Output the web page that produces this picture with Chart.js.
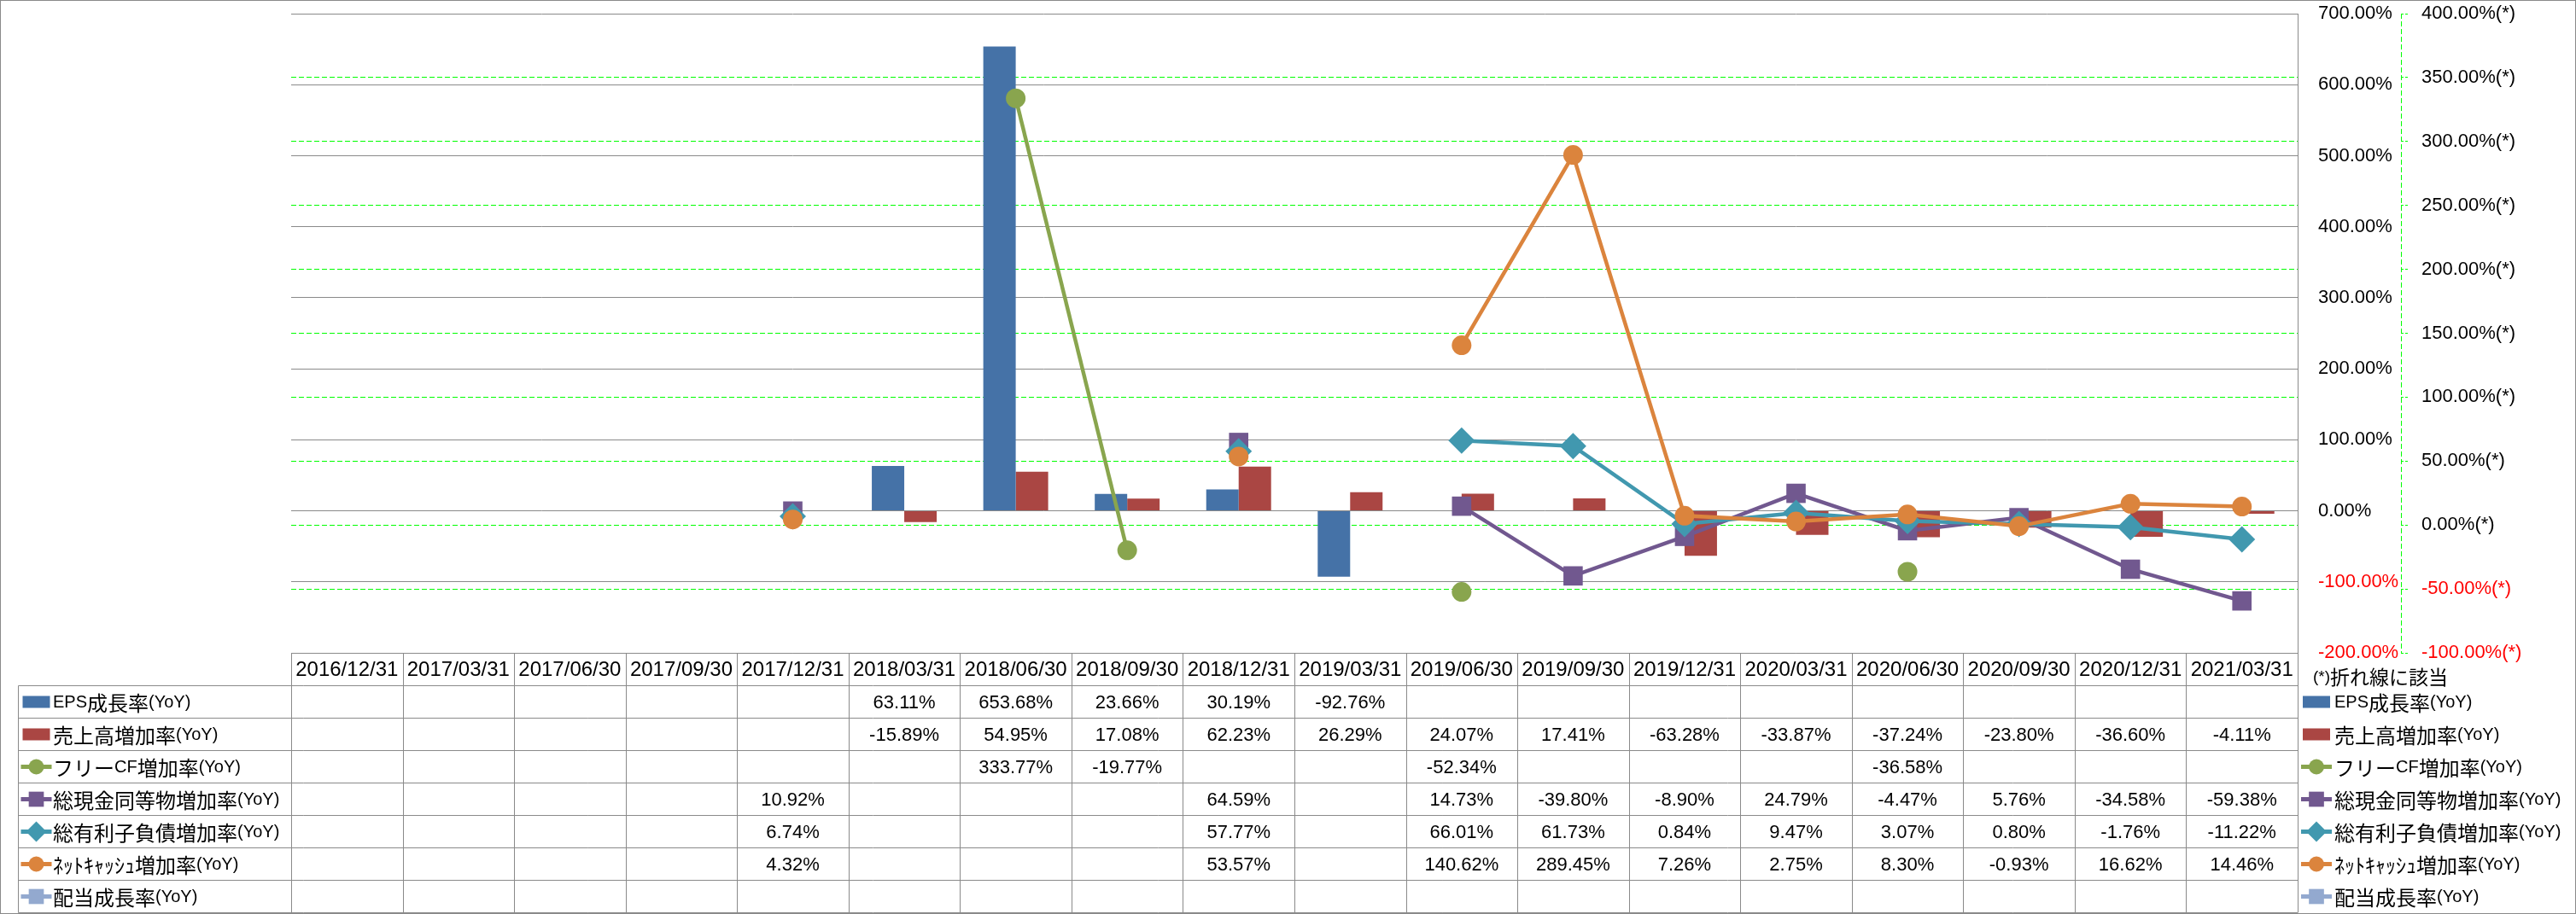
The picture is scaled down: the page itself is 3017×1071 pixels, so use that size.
<!DOCTYPE html>
<html>
<head>
<meta charset="utf-8">
<script src="https://cdn.jsdelivr.net/npm/chart.js@4/dist/chart.umd.min.js"></script>
<style>
  html, body { margin: 0; padding: 0; background: #fff; }
  #wrap { width: 3017px; height: 1071px; }
</style>
</head>
<body>
<div id="wrap"><canvas id="myChart" width="3017" height="1071"></canvas></div>
<script>
// chart values
const categories = ['2016/12/31', '2017/03/31', '2017/06/30', '2017/09/30', '2017/12/31', '2018/03/31',
    '2018/06/30', '2018/09/30', '2018/12/31', '2019/03/31', '2019/06/30', '2019/09/30',
    '2019/12/31', '2020/03/31', '2020/06/30', '2020/09/30', '2020/12/31', '2021/03/31'];
const epsGrowth   = [null, null, null, null, null, 63.11, 653.68, 23.66, 30.19, -92.76, null, null, null, null, null, null, null, null];
const salesGrowth = [null, null, null, null, null, -15.89, 54.95, 17.08, 62.23, 26.29, 24.07, 17.41, -63.28, -33.87, -37.24, -23.80, -36.60, -4.11];
const fcfGrowth   = [null, null, null, null, null, null, 333.77, -19.77, null, null, -52.34, null, null, null, -36.58, null, null, null];
const cashGrowth  = [null, null, null, null, 10.92, null, null, null, 64.59, null, 14.73, -39.80, -8.90, 24.79, -4.47, 5.76, -34.58, -59.38];
const debtGrowth  = [null, null, null, null, 6.74, null, null, null, 57.77, null, 66.01, 61.73, 0.84, 9.47, 3.07, 0.80, -1.76, -11.22];
const netCashGrowth = [null, null, null, null, 4.32, null, null, null, 53.57, null, 140.62, 289.45, 7.26, 2.75, 8.30, -0.93, 16.62, 14.46];
const dividendGrowth = [null, null, null, null, null, null, null, null, null, null, null, null, null, null, null, null, null, null];

const leftTicks = { min: -200, max: 700, step: 100 };
const rightTicks = { min: -100, max: 400, step: 50 };

const FONT = '"Liberation Sans", "Noto Sans CJK JP", sans-serif';
const CJK_FONT = '"Noto Sans CJK JP", sans-serif';
const GRAY = '#8a8a8a';

const rows = [
    { label: 'EPS成長率(YoY)', color: '#4572A7', kind: 'bar', values: epsGrowth },
    { label: '売上高増加率(YoY)', color: '#AA4643', kind: 'bar', values: salesGrowth },
    { label: 'フリーCF増加率(YoY)', color: '#89A54E', kind: 'line', style: 'circle', values: fcfGrowth },
    { label: '総現金同等物増加率(YoY)', color: '#71588F', kind: 'line', style: 'rect', values: cashGrowth },
    { label: '総有利子負債増加率(YoY)', color: '#4198AF', kind: 'line', style: 'rectRot', values: debtGrowth },
    { label: 'ﾈｯﾄｷｬｯｼｭ増加率(YoY)', color: '#DB843D', kind: 'line', style: 'circle', values: netCashGrowth },
    { label: '配当成長率(YoY)', color: '#93A9CF', kind: 'line', style: 'rect', values: dividendGrowth }
];

const pointRadius = { circle: 11.5, rect: 16, rectRot: 15.5 };
const keyRadius = { circle: 9, rect: 12.5, rectRot: 12 };

// japanese glyphs are wider than the latin ones in the original, so draw runs separately
function drawMixed(ctx, text, x, y, latinSize, cjkSize) {
    const runs = [];
    for (const ch of text) {
        const wide = /[\u3000-\u30ff\u4e00-\u9fff\uff61-\uff9f]/.test(ch);
        if (runs.length && runs[runs.length - 1].wide === wide) runs[runs.length - 1].s += ch;
        else runs.push({ wide: wide, s: ch });
    }
    ctx.textAlign = 'left';
    runs.forEach((r) => {
        ctx.font = r.wide ? cjkSize + 'px ' + CJK_FONT : latinSize + 'px ' + FONT;
        ctx.fillText(r.s, x, y);
        x += ctx.measureText(r.s).width;
    });
}

function drawKey(ctx, row, left, cy) {
    ctx.save();
    if (row.kind === 'bar') {
        ctx.fillStyle = row.color;
        ctx.fillRect(left + 2, cy - 7, 32, 14);
    } else {
        ctx.strokeStyle = row.color;
        ctx.lineWidth = 5;
        ctx.beginPath();
        ctx.moveTo(left, cy);
        ctx.lineTo(left + 36, cy);
        ctx.stroke();
        ctx.fillStyle = row.color;
        Chart.helpers.drawPoint(ctx, { pointStyle: row.style, rotation: 0, radius: keyRadius[row.style], borderWidth: 0 }, left + 18, cy);
    }
    ctx.restore();
}

const tablePlugin = {
    id: 'dataTable',
    afterDraw(chart) {
        const { ctx, chartArea, scales } = chart;
        const xs = scales.x;
        const colW = (chartArea.right - chartArea.left) / categories.length;
        const top = Math.round(chartArea.bottom) + 0.5;
        const rowH = 38;
        const bodyTop = top + rowH;
        const bottom = bodyTop + rowH * rows.length;
        const legendLeft = 21.5;
        const right = chartArea.right;

        ctx.save();
        ctx.strokeStyle = GRAY;
        ctx.lineWidth = 1;
        ctx.beginPath();
        ctx.moveTo(chartArea.left, top);
        ctx.lineTo(right, top);
        for (let r = 0; r <= rows.length; r++) {
            const y = bodyTop + r * rowH;
            ctx.moveTo(legendLeft, y);
            ctx.lineTo(right, y);
        }
        for (let i = 0; i <= categories.length; i++) {
            const x = Math.round(chartArea.left + i * colW) + 0.5;
            ctx.moveTo(x, top);
            ctx.lineTo(x, bottom);
        }
        ctx.moveTo(legendLeft, bodyTop);
        ctx.lineTo(legendLeft, bottom);
        ctx.stroke();

        // header = category labels
        ctx.fillStyle = '#000';
        ctx.textAlign = 'center';
        ctx.textBaseline = 'middle';
        ctx.font = '24px ' + FONT;
        categories.forEach((c, i) => {
            ctx.fillText(c, xs.getPixelForValue(i), top + rowH / 2 + 1);
        });

        ctx.font = '22px ' + FONT;
        rows.forEach((row, r) => {
            const cy = bodyTop + r * rowH + rowH / 2 + 1;
            row.values.forEach((v, i) => {
                if (v === null) return;
                ctx.fillText(v.toFixed(2) + '%', xs.getPixelForValue(i), cy);
            });
        });

        // keys in the table and on the right
        rows.forEach((row, r) => {
            const cy = bodyTop + r * rowH + rowH / 2;
            drawKey(ctx, row, 24.5, cy);
            drawKey(ctx, row, 2695, cy);
            ctx.fillStyle = '#000';
            drawMixed(ctx, row.label, 62, cy + 1, 20, 24);
            drawMixed(ctx, row.label, 2734, cy + 1, 20, 24);
        });

        drawMixed(ctx, '(*)折れ線に該当', 2709, top + rowH / 2 + 9, 19, 23);

        // dashed line of the right axis
        const y2 = scales.y2;
        ctx.strokeStyle = '#00ff00';
        ctx.setLineDash([6, 3]);
        ctx.beginPath();
        ctx.moveTo(Math.round(y2.left) + 0.5, chartArea.top);
        ctx.lineTo(Math.round(y2.left) + 0.5, chartArea.bottom);
        ctx.stroke();
        ctx.setLineDash([]);

        ctx.strokeStyle = GRAY;
        ctx.strokeRect(0.5, 0.5, 3016, 1070);
        ctx.restore();
    }
};

const lineSet = (row, order) => ({
    type: 'line',
    label: row.label,
    data: row.values,
    yAxisID: 'y2',
    order: order,
    borderColor: row.color,
    backgroundColor: row.color,
    borderWidth: 4.5,
    pointStyle: row.style,
    pointRadius: pointRadius[row.style],
    pointHoverRadius: pointRadius[row.style],
    pointBorderWidth: 0,
    tension: 0,
    spanGaps: false
});

const barSet = (row, order) => ({
    type: 'bar',
    label: row.label,
    data: row.values,
    yAxisID: 'y',
    order: order,
    backgroundColor: row.color,
    borderWidth: 0,
    categoryPercentage: 0.582,
    barPercentage: 1.0
});

const noPad = (s, w) => { s.width = w; s.paddingTop = 0; s.paddingBottom = 0; };

const ctx = document.getElementById('myChart');
new Chart(ctx, {
    data: {
        labels: categories,
        datasets: [
            barSet(rows[0], 9),
            barSet(rows[1], 10),
            lineSet(rows[6], 6),
            lineSet(rows[2], 5),
            lineSet(rows[3], 4),
            lineSet(rows[4], 3),
            lineSet(rows[5], 2)
        ]
    },
    options: {
        responsive: false,
        animation: false,
        devicePixelRatio: 1,
        layout: { padding: { left: 341, top: 15, right: 55, bottom: 306 } },
        plugins: {
            legend: { display: false },
            tooltip: { enabled: false }
        },
        scales: {
            x: { display: false, offset: true },
            y: {
                position: 'right',
                weight: 0,
                min: leftTicks.min,
                max: leftTicks.max,
                afterFit: (s) => noPad(s, 121),
                ticks: {
                    stepSize: leftTicks.step,
                    padding: 24,
                    font: { family: FONT, size: 22 },
                    color: (c) => (c.tick && c.tick.value < 0 ? '#ff0000' : '#000000'),
                    callback: (v) => v.toFixed(2) + '%'
                },
                grid: { color: GRAY, lineWidth: 1, drawTicks: false },
                border: { display: true, color: GRAY, width: 1 }
            },
            y2: {
                position: 'right',
                weight: 1,
                min: rightTicks.min,
                max: rightTicks.max,
                afterFit: (s) => noPad(s, 150),
                ticks: {
                    stepSize: rightTicks.step,
                    padding: 16,
                    font: { family: FONT, size: 22 },
                    color: (c) => (c.tick && c.tick.value < 0 ? '#ff0000' : '#000000'),
                    callback: (v) => v.toFixed(2) + '%(*)'
                },
                grid: {
                    color: (c) => (c.tick && (c.tick.value === rightTicks.max || c.tick.value === rightTicks.min) ? 'rgba(0,0,0,0)' : '#00ff00'),
                    lineWidth: 1,
                    drawTicks: true,
                    tickLength: 8,
                    tickColor: '#00ff00',
                    tickBorderDash: [3, 2]
                },
                border: { display: false, dash: [6, 3] }
            }
        }
    },
    plugins: [tablePlugin]
});
</script>
</body>
</html>
